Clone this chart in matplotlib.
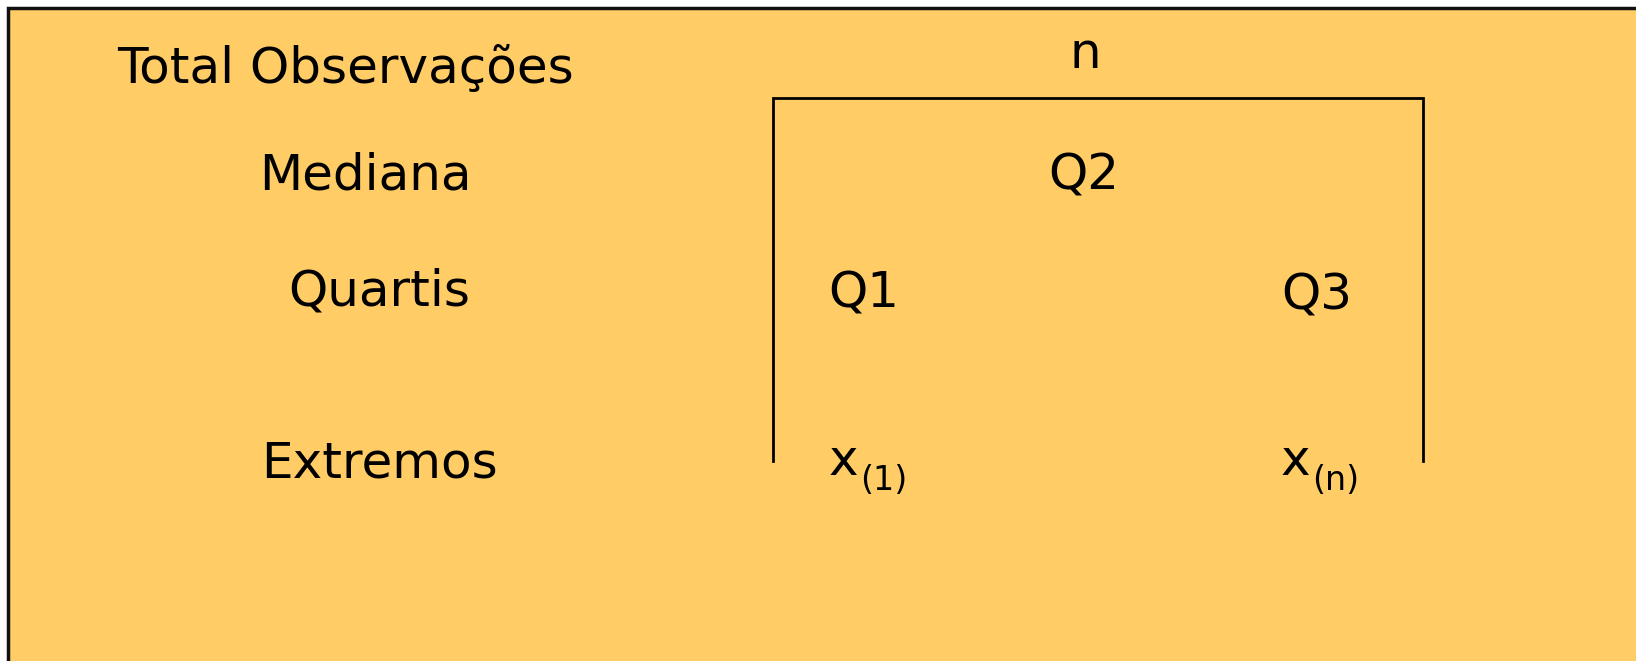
import matplotlib.pyplot as plt
import matplotlib.patches as mpatches

# diagram content
row_labels = ["Total Observações", "Mediana", "Quartis", "Extremos"]
tree_labels = [["n"], ["Q2"], ["Q1", "Q3"], ["x", "x"]]
sub_labels = ["(1)", "(n)"]

# layout in pixel units (figure is 1636 x 661), y = text baseline
row_y = [83, 190, 305, 478]
row_x = [117, 365, 379, 379]
row_ha = ["left", "center", "center", "center"]
tree_x = [[1085], [1084], [864, 1317], [829, 1281]]
tree_y = [[68], [189], [307, 310], [475, 475]]
tree_ha = [["center"], ["center"], ["center", "center"], ["left", "left"]]

bg = "#FFCC66"
fs = 36

fig = plt.figure(figsize=(16.36, 6.61), dpi=100)
ax = fig.add_axes([0, 0, 1, 1])
ax.set_xlim(0, 1636)
ax.set_ylim(661, 0)
ax.axis('off')

# panel with dark border on top / left
ax.add_patch(mpatches.Rectangle((8, 8), 1700, 700, facecolor=bg,
                                edgecolor='#111111', linewidth=2.5))

for lab, x, y, ha in zip(row_labels, row_x, row_y, row_ha):
    ax.text(x, y, lab, fontsize=fs, ha=ha, va='baseline', color='black')

for labs, xs, ys, has in zip(tree_labels, tree_x, tree_y, tree_ha):
    for lab, x, y, ha in zip(labs, xs, ys, has):
        ax.text(x, y, lab, fontsize=fs, ha=ha, va='baseline', color='black')

# subscripts for the extremes
for sub, x, y in zip(sub_labels, tree_x[3], tree_y[3]):
    ax.text(x + 31, y + 15, sub, fontsize=24, ha='left', va='baseline',
            color='black')

# bracket
ax.plot([773, 773, 1423, 1423], [461, 98, 98, 461], color='black', lw=2,
        solid_joinstyle='miter')

plt.savefig("out.png", dpi=100)
